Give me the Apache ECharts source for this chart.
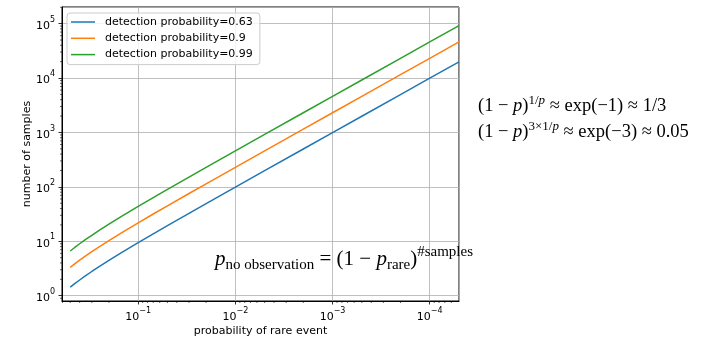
<!DOCTYPE html>
<html>
<head>
<meta charset="utf-8">
<script src="https://cdn.jsdelivr.net/npm/echarts@6/dist/echarts.min.js"></script>
<style>
html,body{margin:0;padding:0;background:#fff;}
#chart{width:701px;height:342px;}
</style>
</head>
<body>
<div id="chart"></div>
<script>
// probability of rare event (x)
const pValues = [0.5,0.45,0.4,0.35,0.3,0.25,0.2,0.15,0.1,0.07,0.05,0.03,0.02,0.01,0.005,0.002,0.001,5e-4,2e-4,1e-4,5e-5];
// number of samples (y) per detection probability
const samples063 = [1.4344,1.6631,1.9464,2.3080,2.7875,3.4561,4.4556,6.1177,9.4366,13.700,19.384,32.642,49.213,98.93,198.35,496.6,993.75,1988.0,4970.8,9941.9,19884.5];
const samples090 = [3.3219,3.8515,4.5076,5.3452,6.4557,8.0039,10.3189,14.168,21.854,31.729,44.891,75.596,113.97,229.11,459.37,1150.1,2301.4,4604.0,11511.8,23024.7,46050.5];
const samples099 = [6.6439,7.7030,9.0152,10.690,12.911,16.008,20.638,28.336,43.709,63.458,89.781,151.19,227.94,458.21,918.74,2300.3,4602.9,9208.0,23023.5,46049.4,92101.1];
const seriesNames = ['detection probability=0.63','detection probability=0.9','detection probability=0.99'];
const colors = ['#1f77b4','#ff7f0e','#2ca02c'];

const X_MIN = 5e-5, X_MAX = 0.608, Y_MIN = 0.8, Y_MAX = 2.02e5;

// minor tick positions (2..9 x 10^k)
const xMinor = [], yMinor = [];
for (let k = -5; k <= 0; k++) for (let m = 2; m <= 9; m++) {
  const v = m * Math.pow(10, k);
  if (v > X_MIN * 1.001 && v < X_MAX) xMinor.push([v, Y_MIN]);
}
for (let k = -1; k <= 5; k++) for (let m = 2; m <= 9; m++) {
  const v = m * Math.pow(10, k);
  if (v > Y_MIN * 1.001 && v < Y_MAX) yMinor.push([X_MAX, v]);
}

function powLabel(v){
  const e = Math.round(Math.log10(v));
  const s = (e < 0 ? '\u2212' : '') + Math.abs(e);
  return '{b|10}{s|' + s + '}';
}
const tickRich = {
  b:{fontFamily:'DejaVu Sans',fontSize:11,color:'#000',lineHeight:16,verticalAlign:'bottom'},
  s:{fontFamily:'DejaVu Sans',fontSize:8,color:'#000',lineHeight:14,verticalAlign:'top'}
};

const chart = echarts.init(document.getElementById('chart'), null, {renderer:'canvas'});

const lineSeries = [samples063, samples090, samples099].map((arr, i) => ({
  name: seriesNames[i],
  type: 'line',
  data: pValues.map((p, j) => [p, arr[j]]),
  symbol: 'none',
  smooth: false,
  lineStyle: {width: 1.5, color: colors[i]},
  itemStyle: {color: colors[i]},
  z: 3
}));

const minorX = {
  type:'custom', silent:true, clip:false, z:5,
  data: xMinor,
  renderItem: function(params, api){
    const pt = api.coord([api.value(0), api.value(1)]);
    return {type:'line', shape:{x1:pt[0], y1:pt[1], x2:pt[0], y2:pt[1]+2},
      style:{stroke:'#000', lineWidth:0.6}};
  }
};
const minorY = {
  type:'custom', silent:true, clip:false, z:5,
  data: yMinor,
  renderItem: function(params, api){
    const pt = api.coord([api.value(0), api.value(1)]);
    return {type:'line', shape:{x1:pt[0]-2, y1:pt[1], x2:pt[0], y2:pt[1]},
      style:{stroke:'#000', lineWidth:0.6}};
  }
};

const mathRich = function(main, sup){
  return {
    m:{fontFamily:'Liberation Serif', fontSize:main, color:'#000', lineHeight:24, verticalAlign:'middle'},
    i:{fontFamily:'Liberation Serif', fontStyle:'italic', fontSize:main, color:'#000', lineHeight:24, verticalAlign:'middle'},
    s:{fontFamily:'Liberation Serif', fontSize:sup, color:'#000', lineHeight:12, verticalAlign:'top'},
    si:{fontFamily:'Liberation Serif', fontStyle:'italic', fontSize:sup, color:'#000', lineHeight:12, verticalAlign:'top'}
  };
};

const option = {
  animation:false,
  backgroundColor:'#fff',
  grid:{left:62, top:7, right:242, bottom:39, show:true, borderColor:'#000', borderWidth:1, backgroundColor:'transparent'},
  legend:{
    data: seriesNames,
    orient:'vertical', left:67, top:13,
    icon:'rect',
    itemWidth:24, itemHeight:1.5, itemGap:4.3,
    padding:[3,7,4,4],
    backgroundColor:'rgba(255,255,255,0.8)',
    borderColor:'#cccccc', borderWidth:1, borderRadius:3,
    textStyle:{fontFamily:'DejaVu Sans', fontSize:11, color:'#000', lineHeight:12, padding:[0,0,0,5]}
  },
  xAxis:{
    type:'log', logBase:10, inverse:true, min:X_MIN, max:X_MAX,
    name:'probability of rare event', nameLocation:'middle', nameGap:25, nameMoveOverlap:false,
    nameTextStyle:{fontFamily:'DejaVu Sans', fontSize:11, color:'#000', verticalAlign:'top'},
    axisLine:{show:true, lineStyle:{color:'#000', width:1}},
    axisTick:{show:true, inside:false, length:3.5, lineStyle:{color:'#000', width:0.8}},
    axisLabel:{margin:6, showMinLabel:false, showMaxLabel:false, formatter:powLabel, rich:tickRich},
    splitLine:{show:true, lineStyle:{color:'#b0b0b0', width:0.8}}
  },
  yAxis:{
    type:'log', logBase:10, min:Y_MIN, max:Y_MAX,
    name:'number of samples', nameLocation:'middle', nameGap:29, nameRotate:90, nameMoveOverlap:false,
    nameTextStyle:{fontFamily:'DejaVu Sans', fontSize:11, color:'#000'},
    axisLine:{show:true, lineStyle:{color:'#000', width:1}},
    axisTick:{show:true, inside:false, length:3.5, lineStyle:{color:'#000', width:0.8}},
    axisLabel:{margin:7, showMinLabel:false, showMaxLabel:false, formatter:powLabel, rich:tickRich},
    splitLine:{show:true, lineStyle:{color:'#b0b0b0', width:0.8}}
  },
  series: lineSeries.concat([minorX, minorY]),
  graphic:[
    {
      type:'text', left:478, top:94, z:10,
      style:{
        text:'{m|(1 \u2212 }{i|p}{m|)}{s|1/}{si|p}{m| \u2248 exp(\u22121) \u2248 1/3}',
        rich: mathRich(18.5, 13)
      }
    },
    {
      type:'text', left:478, top:120, z:10,
      style:{
        text:'{m|(1 \u2212 }{i|p}{m|)}{s|3\u00d71/}{si|p}{m| \u2248 exp(\u22123) \u2248 0.05}',
        rich: mathRich(18.5, 13)
      }
    },
    {
      type:'text', left:215, top:245, z:10,
      style:{
        text:'{i|p}{sub|no observation}{m| = (1 \u2212 }{i|p}{sub|rare}{m|)}{sup|#samples}',
        rich:{
          m:{fontFamily:'Liberation Serif', fontSize:21, color:'#000', lineHeight:28, verticalAlign:'middle'},
          i:{fontFamily:'Liberation Serif', fontStyle:'italic', fontSize:21, color:'#000', lineHeight:28, verticalAlign:'middle'},
          sub:{fontFamily:'Liberation Serif', fontSize:15, color:'#000', lineHeight:20, verticalAlign:'bottom'},
          sup:{fontFamily:'Liberation Serif', fontSize:15, color:'#000', lineHeight:12, verticalAlign:'top'}
        }
      }
    }
  ]
};
chart.setOption(option);
</script>
</body>
</html>
